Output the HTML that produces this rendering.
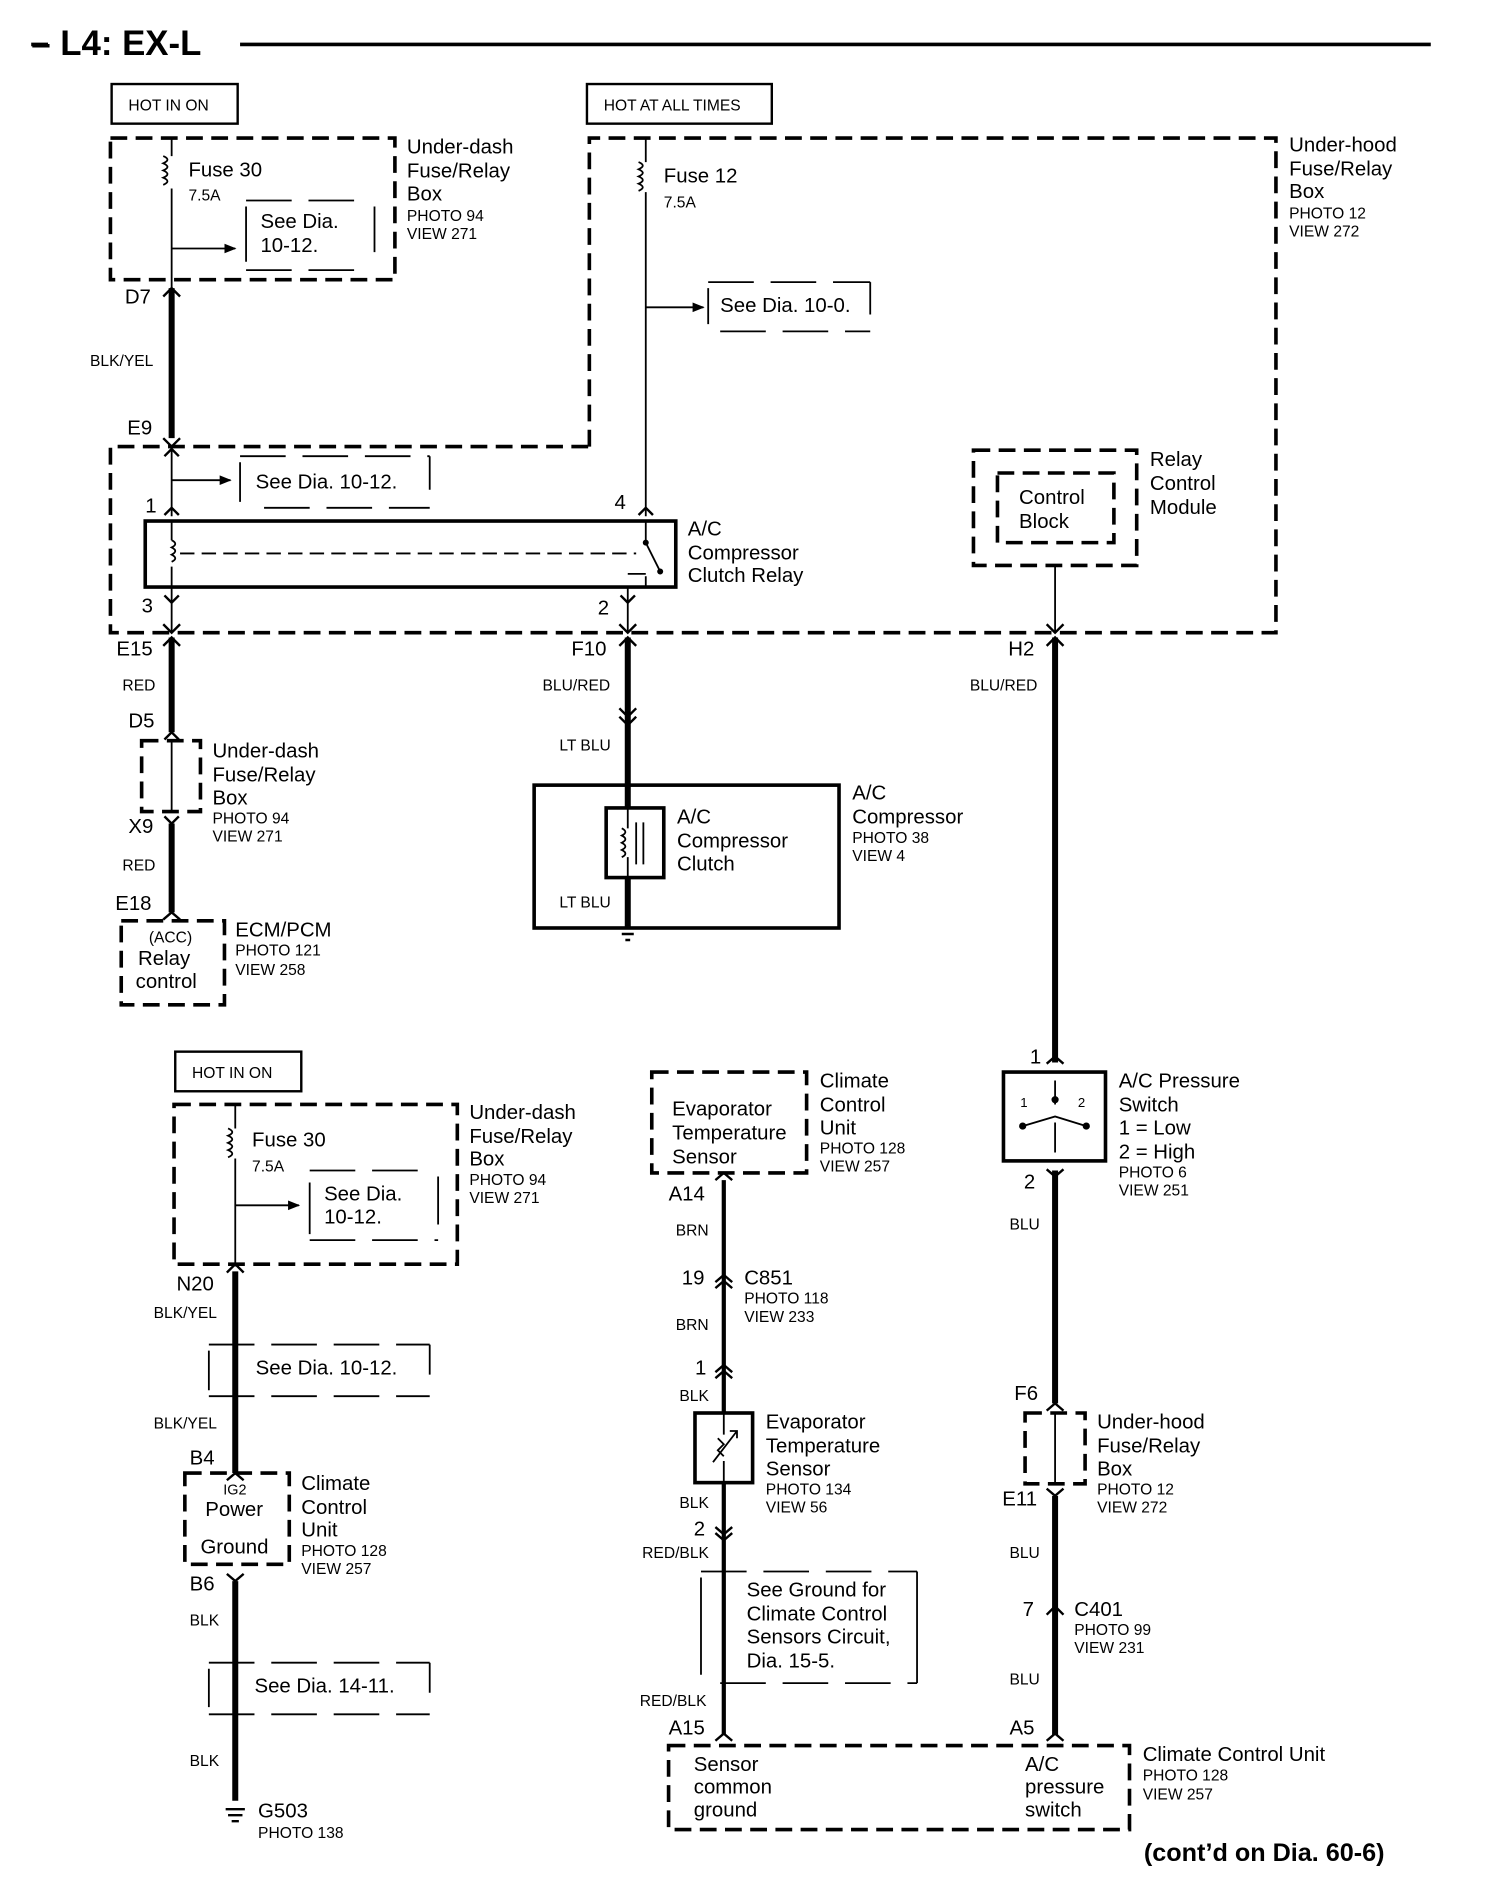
<!DOCTYPE html>
<html><head><meta charset="utf-8"><style>
html,body{margin:0;padding:0;background:#fff}
svg{display:block}
text{font-family:"Liberation Sans",Arial,sans-serif;fill:#000}
.l{font-size:17px}.s{font-size:13px}.w{font-size:13px}
</style></head><body>
<svg width="1504" height="1880" viewBox="0 0 1253 1566" preserveAspectRatio="none" xmlns="http://www.w3.org/2000/svg">
<defs>
<marker id="ar" markerWidth="10" markerHeight="10" refX="9" refY="5" orient="auto" markerUnits="userSpaceOnUse"><path d="M0,1 L10,5 L0,9 z" fill="#000"/></marker>
</defs>
<g stroke="#000" fill="none">
<line x1="200" y1="37" x2="1192" y2="37" stroke-width="3"/>
<line x1="26" y1="37" x2="40" y2="37" stroke-width="3"/>
<rect x="93" y="70" width="105" height="33" stroke-width="2"/>
<rect x="489" y="70" width="154" height="33" stroke-width="2"/>
<rect x="146" y="876" width="105" height="33" stroke-width="2"/>
<g stroke-width="3" stroke-dasharray="14,7">
<rect x="92" y="115" width="237" height="118"/>
<path d="M491,372 L491,115 L1063,115 L1063,527 L92,527 L92,372 Z"/>
<rect x="811" y="375" width="136" height="96"/>
<rect x="831" y="394" width="97" height="58"/>
<rect x="118" y="617" width="49" height="59"/>
<rect x="101" y="767" width="86" height="70"/>
<rect x="854" y="1177" width="50" height="59"/>
<rect x="557" y="1454" width="384" height="70"/>
<rect x="145" y="920" width="236" height="133"/>
<rect x="154" y="1227" width="87" height="76"/>
<rect x="543" y="893" width="129" height="84"/>
</g>
<g stroke-width="1.5" stroke-dasharray="38,14">
<path d="M205,167 H300 M205,225 H300"/>
<path d="M590,235 H725 M600,276 H725"/>
<path d="M200,380 H358 M220,423 H358"/>
<path d="M258,975 H355 M258,1033 H365"/>
<path d="M174,1120 H358 M174,1163 H358"/>
<path d="M174,1385 H358 M174,1428 H358"/>
<path d="M584,1309 H764 M600,1402 H764"/>
</g>
<g stroke-width="1.5">
<path d="M312,172 V210 M205,172 V218"/>
<path d="M725,235 V262 M590,240 V270"/>
<path d="M358,380 V408 M200,385 V418"/>
<path d="M365,980 V1020 M258,985 V1028"/>
<path d="M358,1120 V1145 M174,1125 V1158"/>
<path d="M358,1385 V1410 M174,1390 V1422"/>
<path d="M764,1309 V1402 M584,1314 V1395"/>
</g>
<g stroke-width="1.5">
<path d="M143,115 V130 M143,157 V240"/>
<path d="M136,130 q7,3 0,6 q7,3 0,6 q7,3 0,6 q7,3 0,6" />
<line x1="143" y1="207" x2="196" y2="207" marker-end="url(#ar)"/>
<path d="M538,115 V135 M538,160 V430"/>
<path d="M532,135 q7,3 0,6 q7,3 0,6 q7,3 0,6 q7,3 0,6"/>
<line x1="538" y1="256" x2="586" y2="256" marker-end="url(#ar)"/>
<path d="M143,372 V430"/>
<line x1="143" y1="400" x2="192" y2="400" marker-end="url(#ar)"/>
<path d="M196,920 V940 M196,965 V1055"/>
<path d="M190,940 q7,3 0,6 q7,3 0,6 q7,3 0,6 q7,3 0,6"/>
<line x1="196" y1="1004" x2="249" y2="1004" marker-end="url(#ar)"/>
<path d="M879,471 V527"/>
<path d="M143,489 V527 M523,489 V527"/>
<path d="M143,617 V676 M879,1177 V1236"/>
</g>
<rect x="121" y="434" width="442" height="55" stroke-width="3"/>
<path d="M143,434 V450 M143,472 V489" stroke-width="1.5"/>
<path d="M143,450 q6,3 0,6 q6,3 0,6 q6,3 0,6" stroke-width="1.5"/>
<line x1="150" y1="461" x2="530" y2="461" stroke-width="1.5" stroke-dasharray="12,6"/>
<path d="M538,434 V452 L550,476 M538,480 V489 M523,478 H538" stroke-width="1.5"/>
<circle cx="538" cy="452" r="2" fill="#000"/><circle cx="550" cy="476" r="2" fill="#000"/>
<g stroke-width="5">
<path d="M143,240 V365"/>
<path d="M143,531 V610 M143,686 V760"/>
<path d="M523,531 V673 M523,731 V772"/>
<path d="M879,531 V885"/>
<path d="M879,975 V1169 M879,1246 V1445"/>
<path d="M196,1059 V1227 M196,1317 V1500"/>
</g>
<path d="M603,983 V1177 M603,1235 V1445" stroke-width="3.5"/>
<rect x="445" y="654" width="254" height="119" stroke-width="3"/>
<rect x="505" y="673" width="48" height="58" stroke-width="3"/>
<path d="M518,690 q6,3 0,6 q6,3 0,6 q6,3 0,6 q6,3 0,6" stroke-width="1.5"/>
<path d="M523,673 V690 M523,714 V731" stroke-width="1.5"/>
<path d="M530,685 V720 M536,685 V720" stroke-width="1.5"/>
<path d="M516,773 H530 M518,778 H528 M521,783 H525" stroke-width="2"/>
<path d="M188,1507 H204 M190,1512 H202 M193,1517 H199" stroke-width="2"/>
<rect x="836" y="893" width="85" height="74" stroke-width="3"/>
<path d="M879,900 V920 M879,935 V960 M852,938 L879,930 L905,938" stroke-width="1.5"/>
<circle cx="879" cy="916" r="2.5" fill="#000"/><circle cx="852" cy="938" r="2.5" fill="#000"/><circle cx="905" cy="938" r="2.5" fill="#000"/>
<rect x="579" y="1177" width="48" height="58" stroke-width="3"/>
<path d="M603,1177 V1195 M603,1217 V1235" stroke-width="1.5"/>
<path d="M594,1218 L614,1192 M608,1192 h6 v6" stroke-width="1.5"/>
<path d="M598,1198 l5,5 l-5,5 l5,5" stroke-width="1.5"/>
<g stroke-width="2">
<path d="M136,247 L143,240 L150,247 M136,365 L143,372 L150,365"/>
<path d="M137,380 L143,374 L149,380 M137,429 L143,423 L149,429 M137,496 L143,502 L149,496 M136,520 L143,527 L150,520 M136,538 L143,531 L150,538"/>
<path d="M516,520 L523,527 L530,520 M516,538 L523,531 L530,538 M532,429 L538,423 L544,429 M517,496 L523,502 L529,496"/>
<path d="M516,590 L523,597 L530,590 M516,597 L523,604 L530,597"/>
<path d="M872,520 L879,527 L886,520 M872,538 L879,531 L886,538 M872,886 L879,880 L886,886 M872,974 L879,980 L886,974"/>
<path d="M137,616 L143,610 L149,616 M137,680 L143,686 L149,680 M136,766 L143,760 L150,766"/>
<path d="M872,1175 L879,1169 L886,1175 M872,1240 L879,1246 L886,1240 M872,1345 L879,1338 L886,1345 M872,1450 L879,1444 L886,1450"/>
<path d="M189,1060 L196,1053 L203,1060 M189,1233 L196,1227 L203,1233 M189,1311 L196,1317 L203,1311"/>
<path d="M596,983 L603,977 L610,983 M596,1068 L603,1062 L610,1068 M596,1073 L603,1067 L610,1073 M596,1143 L603,1137 L610,1143 M596,1148 L603,1142 L610,1148 M596,1272 L603,1278 L610,1272 M596,1277 L603,1283 L610,1277 M596,1450 L603,1444 L610,1450"/>
</g>
</g>
<text x="26" y="46" style="font-size:29px;font-weight:bold">– L4: EX-L</text>
<text x="107" y="92" class="s">HOT IN ON</text>
<text x="503" y="92" class="s">HOT AT ALL TIMES</text>
<text x="160" y="898" class="s">HOT IN ON</text>
<text x="157" y="147" class="l">Fuse 30</text><text x="157" y="167" class="s">7.5A</text>
<text x="217" y="190" class="l">See Dia.</text><text x="217" y="210" class="l">10-12.</text>
<text x="339" y="128" class="l">Under-dash</text><text x="339" y="148" class="l">Fuse/Relay</text><text x="339" y="167" class="l">Box</text><text x="339" y="184" class="s">PHOTO 94</text><text x="339" y="199" class="s">VIEW 271</text>
<text x="104" y="253" class="l">D7</text><text x="75" y="305" class="w">BLK/YEL</text><text x="106" y="362" class="l">E9</text>
<text x="553" y="152" class="l">Fuse 12</text><text x="553" y="173" class="s">7.5A</text>
<text x="600" y="260" class="l">See Dia. 10-0.</text>
<text x="1074" y="126" class="l">Under-hood</text><text x="1074" y="146" class="l">Fuse/Relay</text><text x="1074" y="165" class="l">Box</text><text x="1074" y="182" class="s">PHOTO 12</text><text x="1074" y="197" class="s">VIEW 272</text>
<text x="213" y="407" class="l">See Dia. 10-12.</text>
<text x="121" y="427" class="l">1</text><text x="512" y="424" class="l">4</text><text x="118" y="510" class="l">3</text><text x="498" y="512" class="l">2</text>
<text x="573" y="446" class="l">A/C</text><text x="573" y="466" class="l">Compressor</text><text x="573" y="485" class="l">Clutch Relay</text>
<text x="849" y="420" class="l">Control</text><text x="849" y="440" class="l">Block</text>
<text x="958" y="388" class="l">Relay</text><text x="958" y="408" class="l">Control</text><text x="958" y="428" class="l">Module</text>
<text x="97" y="546" class="l">E15</text><text x="102" y="575" class="w">RED</text><text x="107" y="606" class="l">D5</text><text x="107" y="694" class="l">X9</text><text x="102" y="725" class="w">RED</text><text x="96" y="758" class="l">E18</text>
<text x="177" y="631" class="l">Under-dash</text><text x="177" y="651" class="l">Fuse/Relay</text><text x="177" y="670" class="l">Box</text><text x="177" y="686" class="s">PHOTO 94</text><text x="177" y="701" class="s">VIEW 271</text>
<text x="124" y="785" class="s">(ACC)</text><text x="115" y="804" class="l">Relay</text><text x="113" y="823" class="l">control</text>
<text x="196" y="780" class="l">ECM/PCM</text><text x="196" y="796" class="s">PHOTO 121</text><text x="196" y="812" class="s">VIEW 258</text>
<text x="476" y="546" class="l">F10</text><text x="452" y="575" class="w">BLU/RED</text><text x="466" y="625" class="w">LT BLU</text><text x="466" y="756" class="w">LT BLU</text>
<text x="564" y="686" class="l">A/C</text><text x="564" y="706" class="l">Compressor</text><text x="564" y="725" class="l">Clutch</text>
<text x="710" y="666" class="l">A/C</text><text x="710" y="686" class="l">Compressor</text><text x="710" y="702" class="s">PHOTO 38</text><text x="710" y="717" class="s">VIEW 4</text>
<text x="840" y="546" class="l">H2</text><text x="808" y="575" class="w">BLU/RED</text>
<text x="858" y="886" class="l">1</text><text x="850" y="922" style="font-size:11px">1</text><text x="898" y="922" style="font-size:11px">2</text>
<text x="932" y="906" class="l">A/C Pressure</text><text x="932" y="926" class="l">Switch</text><text x="932" y="945" class="l">1 = Low</text><text x="932" y="965" class="l">2 = High</text><text x="932" y="981" class="s">PHOTO 6</text><text x="932" y="996" class="s">VIEW 251</text>
<text x="853" y="990" class="l">2</text><text x="841" y="1024" class="w">BLU</text><text x="845" y="1166" class="l">F6</text><text x="835" y="1254" class="l">E11</text>
<text x="914" y="1190" class="l">Under-hood</text><text x="914" y="1210" class="l">Fuse/Relay</text><text x="914" y="1229" class="l">Box</text><text x="914" y="1245" class="s">PHOTO 12</text><text x="914" y="1260" class="s">VIEW 272</text>
<text x="841" y="1298" class="w">BLU</text><text x="852" y="1346" class="l">7</text><text x="895" y="1346" class="l">C401</text><text x="895" y="1362" class="s">PHOTO 99</text><text x="895" y="1377" class="s">VIEW 231</text>
<text x="841" y="1403" class="w">BLU</text><text x="841" y="1445" class="l">A5</text>
<text x="578" y="1475" class="l">Sensor</text><text x="578" y="1494" class="l">common</text><text x="578" y="1513" class="l">ground</text>
<text x="854" y="1475" class="l">A/C</text><text x="854" y="1494" class="l">pressure</text><text x="854" y="1513" class="l">switch</text>
<text x="952" y="1467" class="l">Climate Control Unit</text><text x="952" y="1483" class="s">PHOTO 128</text><text x="952" y="1499" class="s">VIEW 257</text>
<text x="953" y="1550" style="font-size:21px;font-weight:bold">(cont’d on Dia.  60-6)</text>
<text x="210" y="955" class="l">Fuse 30</text><text x="210" y="976" class="s">7.5A</text>
<text x="270" y="1000" class="l">See Dia.</text><text x="270" y="1019" class="l">10-12.</text>
<text x="391" y="932" class="l">Under-dash</text><text x="391" y="952" class="l">Fuse/Relay</text><text x="391" y="971" class="l">Box</text><text x="391" y="987" class="s">PHOTO 94</text><text x="391" y="1002" class="s">VIEW 271</text>
<text x="147" y="1075" class="l">N20</text><text x="128" y="1098" class="w">BLK/YEL</text>
<text x="213" y="1145" class="l">See Dia. 10-12.</text>
<text x="128" y="1190" class="w">BLK/YEL</text><text x="158" y="1220" class="l">B4</text>
<text x="186" y="1245" style="font-size:12px">IG2</text><text x="171" y="1263" class="l">Power</text><text x="167" y="1294" class="l">Ground</text>
<text x="251" y="1241" class="l">Climate</text><text x="251" y="1261" class="l">Control</text><text x="251" y="1280" class="l">Unit</text><text x="251" y="1296" class="s">PHOTO 128</text><text x="251" y="1311" class="s">VIEW 257</text>
<text x="158" y="1325" class="l">B6</text><text x="158" y="1354" class="w">BLK</text>
<text x="212" y="1410" class="l">See Dia. 14-11.</text>
<text x="158" y="1471" class="w">BLK</text><text x="215" y="1514" class="l">G503</text><text x="215" y="1531" class="s">PHOTO 138</text>
<text x="560" y="929" class="l">Evaporator</text><text x="560" y="949" class="l">Temperature</text><text x="560" y="969" class="l">Sensor</text>
<text x="683" y="906" class="l">Climate</text><text x="683" y="926" class="l">Control</text><text x="683" y="945" class="l">Unit</text><text x="683" y="961" class="s">PHOTO 128</text><text x="683" y="976" class="s">VIEW 257</text>
<text x="557" y="1000" class="l">A14</text><text x="563" y="1029" class="w">BRN</text>
<text x="568" y="1070" class="l">19</text><text x="620" y="1070" class="l">C851</text><text x="620" y="1086" class="s">PHOTO 118</text><text x="620" y="1101" class="s">VIEW 233</text>
<text x="563" y="1108" class="w">BRN</text><text x="579" y="1145" class="l">1</text><text x="566" y="1167" class="w">BLK</text>
<text x="638" y="1190" class="l">Evaporator</text><text x="638" y="1210" class="l">Temperature</text><text x="638" y="1229" class="l">Sensor</text><text x="638" y="1245" class="s">PHOTO 134</text><text x="638" y="1260" class="s">VIEW 56</text>
<text x="566" y="1256" class="w">BLK</text><text x="578" y="1279" class="l">2</text><text x="535" y="1298" class="w">RED/BLK</text>
<text x="622" y="1330" class="l">See Ground for</text><text x="622" y="1350" class="l">Climate Control</text><text x="622" y="1369" class="l">Sensors Circuit,</text><text x="622" y="1389" class="l">Dia. 15-5.</text>
<text x="533" y="1421" class="w">RED/BLK</text><text x="557" y="1445" class="l">A15</text>
</svg>
</body></html>
